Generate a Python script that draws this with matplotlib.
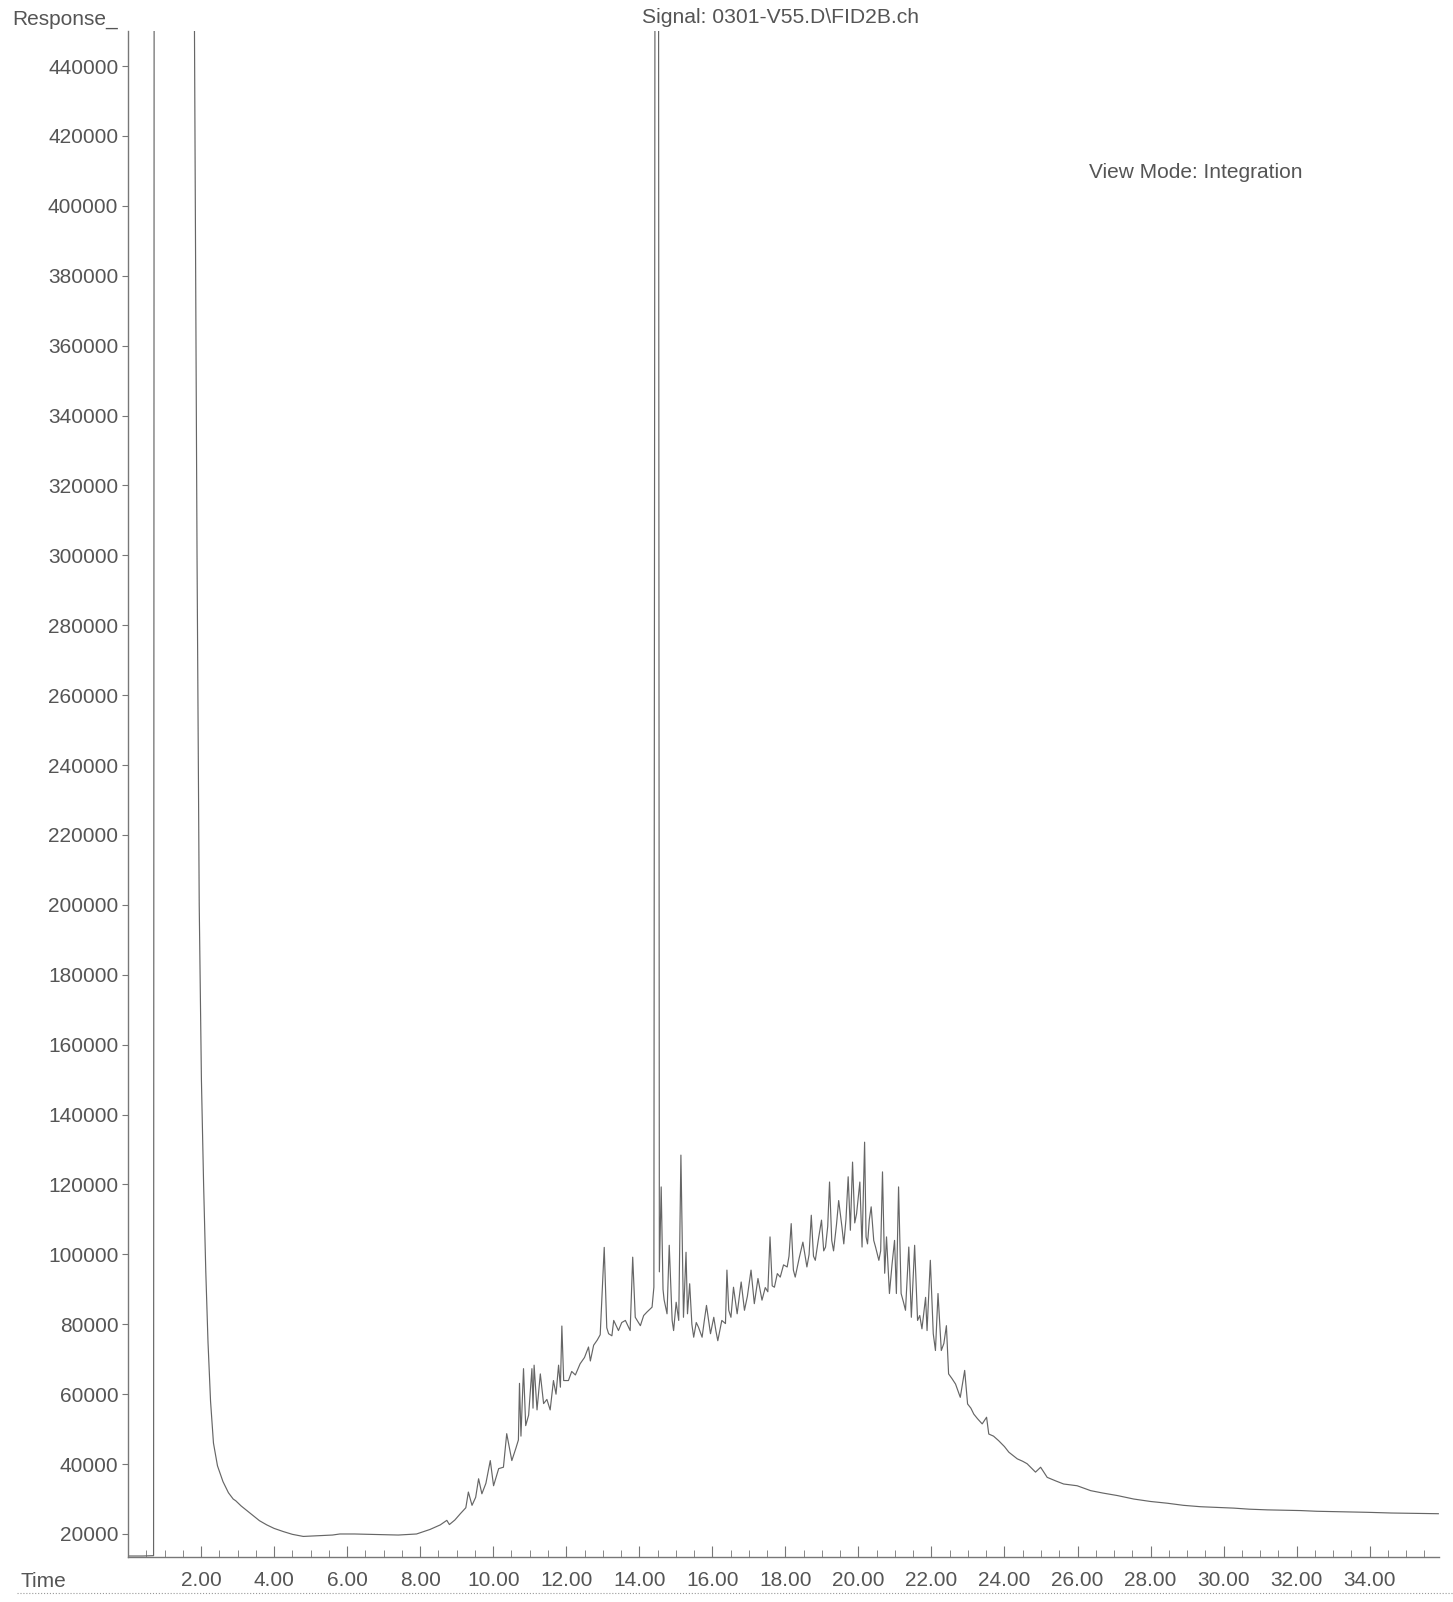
import matplotlib
matplotlib.use("Agg")
import matplotlib.pyplot as plt
from matplotlib.lines import Line2D
from matplotlib.ticker import MultipleLocator

plt.rcParams['font.family'] = ['Liberation Sans', 'DejaVu Sans']

# chromatogram trace (time in min, response)
# values of 600000 stand for the off-scale tops (solvent and big peak)
time_min = [
    0.00, 0.40, 0.70, 0.72, 1.76, 1.82, 1.89, 1.95, 2.01, 2.07, 2.13, 2.19, 2.26, 2.34,
    2.45, 2.60, 2.75, 2.88, 2.95, 3.10, 3.34, 3.60, 3.80, 4.00, 4.25, 4.50, 4.80, 5.20,
    5.60, 5.80, 6.20, 6.60, 7.00, 7.40, 7.90, 8.27, 8.55, 8.73, 8.80, 8.95, 9.10, 9.25,
    9.32, 9.42, 9.52, 9.60, 9.69, 9.80, 9.92, 10.01, 10.15, 10.28, 10.37, 10.51, 10.62,
    10.69, 10.72, 10.76, 10.83, 10.89, 10.97, 11.06, 11.09, 11.12, 11.20, 11.29, 11.38,
    11.47, 11.56, 11.65, 11.72, 11.79, 11.84, 11.88, 11.93, 12.06, 12.15, 12.25, 12.38,
    12.50, 12.61, 12.66, 12.75, 12.85, 12.93, 13.04, 13.11, 13.16, 13.25, 13.30, 13.43,
    13.52, 13.62, 13.75, 13.82, 13.89, 14.03, 14.12, 14.21, 14.35, 14.40, 14.44, 14.52,
    14.55, 14.60, 14.65, 14.68, 14.76, 14.82, 14.90, 14.94, 15.01, 15.08, 15.14, 15.21,
    15.28, 15.32, 15.38, 15.44, 15.49, 15.56, 15.62, 15.72, 15.78, 15.84, 15.95, 16.04,
    16.10, 16.15, 16.26, 16.36, 16.40, 16.45, 16.51, 16.58, 16.68, 16.79, 16.88, 16.96,
    17.06, 17.15, 17.25, 17.36, 17.45, 17.52, 17.58, 17.64, 17.70, 17.78, 17.86, 17.95,
    18.05, 18.10, 18.16, 18.22, 18.27, 18.38, 18.48, 18.59, 18.65, 18.71, 18.77, 18.82,
    18.90, 18.99, 19.05, 19.10, 19.16, 19.21, 19.27, 19.32, 19.40, 19.46, 19.55, 19.60,
    19.66, 19.72, 19.78, 19.84, 19.90, 19.95, 20.04, 20.10, 20.17, 20.21, 20.25, 20.30,
    20.35, 20.42, 20.47, 20.56, 20.61, 20.66, 20.72, 20.77, 20.85, 20.92, 20.99, 21.04,
    21.10, 21.17, 21.23, 21.29, 21.38, 21.45, 21.54, 21.62, 21.68, 21.74, 21.84, 21.88,
    21.97, 22.05, 22.11, 22.18, 22.27, 22.34, 22.41, 22.47, 22.56, 22.66, 22.79, 22.91,
    22.99, 23.08, 23.16, 23.26, 23.39, 23.51, 23.57, 23.70, 23.84, 24.00, 24.12, 24.35,
    24.50, 24.62, 24.85, 24.99, 25.17, 25.40, 25.62, 25.99, 26.36, 26.70, 27.09, 27.54,
    28.00, 28.46, 28.90, 29.37, 29.80, 30.28, 30.70, 31.20, 31.60, 32.11, 32.55, 33.02,
    33.50, 33.94, 34.60, 35.30, 35.88,
]
response = [
    13700, 13700, 13800, 600000, 600000, 450000, 300000, 200000, 150000, 120000, 95000,
    75000, 58000, 46000, 39500, 35000, 31800, 30000, 29500, 28000, 26000, 23800, 22600,
    21600, 20700, 19900, 19300, 19500, 19700, 20000, 20000, 19900, 19800, 19700, 20000,
    21300, 22600, 23900, 22700, 24000, 25800, 27500, 32000, 28200, 30500, 35800, 31500,
    34500, 41000, 33800, 38700, 39100, 48700, 41000, 44500, 46900, 63100, 48000, 67300,
    51000, 54000, 67300, 56000, 68300, 55500, 65800, 57300, 58500, 55500, 63900, 60000,
    68300, 62000, 79500, 63900, 63900, 66500, 65500, 68700, 70500, 73500, 69500, 74000,
    75500, 77000, 102000, 79000, 77300, 76700, 81100, 78200, 80500, 81100, 78200, 99200,
    82000, 79600, 82500, 83500, 84900, 90600, 600000, 600000, 95000, 119300, 90000, 87000,
    83000, 102600, 81100, 78200, 86300, 81100, 128400, 82000, 100600, 83000, 91600, 80000,
    76300, 80500, 79200, 76300, 81000, 85400, 77300, 82000, 78000, 75300, 81100, 80200,
    95500, 84000, 82000, 90600, 83000, 92100, 84000, 88000, 95500, 85900, 93100, 86900,
    90500, 89300, 105000, 91000, 90600, 94500, 93500, 97000, 96400, 99500, 108800, 95500,
    93500, 99000, 103500, 96400, 100000, 111200, 99500, 98300, 104000, 109800, 101000,
    102100, 108000, 120700, 104000, 101000, 108500, 115400, 107800, 103000, 110000,
    122200, 106900, 126400, 109000, 111600, 120700, 102100, 132100, 105000, 103000,
    110000, 113600, 104000, 102100, 98300, 101000, 123600, 94600, 105000, 88800, 97000,
    104000, 88800, 119300, 88800, 86500, 84000, 102100, 82000, 102600, 81100, 82500,
    78700, 87700, 78200, 98300, 77300, 72500, 88800, 72500, 74500, 79600, 65800, 64500,
    62900, 59100, 66800, 57200, 56000, 54300, 53000, 51500, 53400, 48600, 48000, 46700,
    45000, 43400, 41500, 40800, 40100, 37700, 39100, 36200, 35200, 34300, 33800, 32400,
    31700, 31000, 30000, 29300, 28800, 28200, 27800, 27600, 27400, 27100, 26900, 26800,
    26700, 26500, 26400, 26300, 26200, 26000, 25900, 25800,
]

y_ticks = list(range(20000, 440001, 20000))
x_ticks = list(range(2, 35, 2))

grey = '#666666'
text_grey = '#555555'

fig = plt.figure(figsize=(14.53, 16.02), dpi=100)
ax = fig.add_axes([0.0881, 0.0281, 0.9023, 0.9525])

ax.plot(time_min, response, color=grey, lw=0.85)

ax.set_xlim(0, 35.9)
ax.set_ylim(13420, 450000)

ax.set_yticks(y_ticks)
ax.set_yticklabels([str(v) for v in y_ticks])
ax.set_xticks(x_ticks)
ax.set_xticklabels([f"{v:.2f}" for v in x_ticks])
ax.xaxis.set_minor_locator(MultipleLocator(0.5))

ax.tick_params(axis='y', direction='out', length=4, width=0.8, color='#777777',
               labelcolor=text_grey, labelsize=15, pad=3)
ax.tick_params(axis='x', which='major', direction='in', length=8, width=0.8,
               color='#777777', labelcolor=text_grey, labelsize=15, pad=10)
ax.tick_params(axis='x', which='minor', direction='in', length=5, width=0.7,
               color='#888888')

for side in ['top', 'right']:
    ax.spines[side].set_visible(False)
for side in ['left', 'bottom']:
    ax.spines[side].set_color('#777777')
    ax.spines[side].set_linewidth(1.0)

fig.text(0.0083, 0.988, "Response_", fontsize=15, color=text_grey, va='center', ha='left')
fig.text(0.0138, 0.0131, "Time", fontsize=15, color=text_grey, va='center', ha='left')
fig.text(0.5375, 0.9891, "Signal: 0301-V55.D\\FID2B.ch", fontsize=15.2, color=text_grey,
         va='center', ha='center')
fig.text(0.7495, 0.8922, "View Mode: Integration", fontsize=15, color=text_grey,
         va='center', ha='left')

# dotted rule under the time axis
fig.add_artist(Line2D([0.012, 1.0], [0.0056, 0.0056], transform=fig.transFigure,
                      color='#999999', lw=0.8, ls=':'))

fig.savefig("out.png", dpi=100)
